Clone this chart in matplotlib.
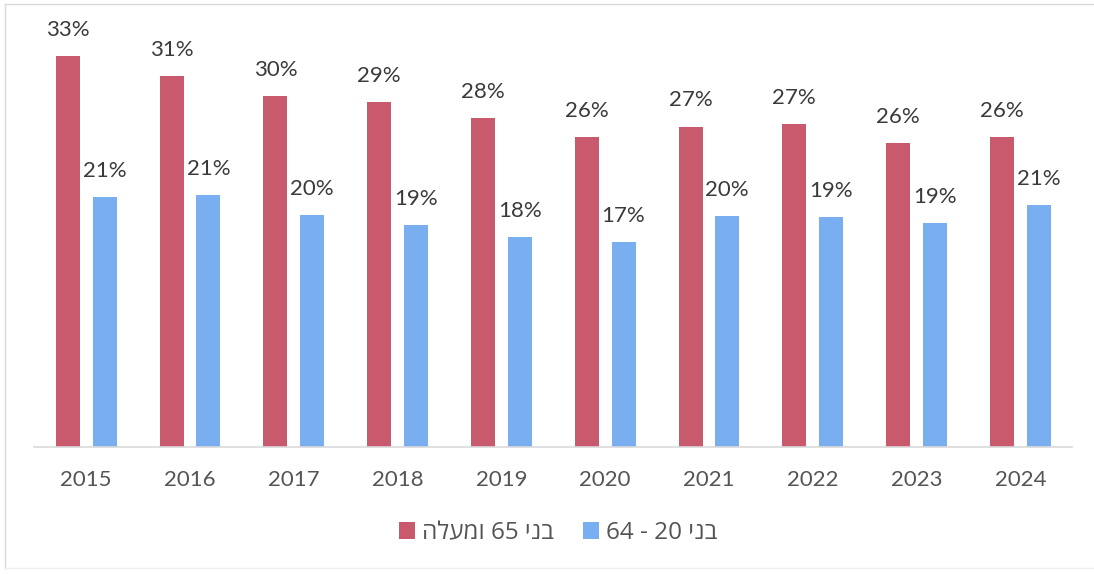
import matplotlib
matplotlib.use("Agg")
import matplotlib.pyplot as plt
import numpy as np
from matplotlib.lines import Line2D

# ---- data ----
years = ["2015", "2016", "2017", "2018", "2019", "2020", "2021", "2022", "2023", "2024"]
series_names = ["בני 65 ומעלה", "בני 20 - 64"]
age65_values = [33.2, 31.5, 29.8, 29.3, 27.9, 26.3, 27.2, 27.4, 25.8, 26.3]
age20_64_values = [21.2, 21.4, 19.7, 18.8, 17.8, 17.4, 19.6, 19.5, 19.0, 20.5]
age65_labels = ["33%", "31%", "30%", "29%", "28%", "26%", "27%", "27%", "26%", "26%"]
age20_64_labels = ["21%", "21%", "20%", "19%", "18%", "17%", "20%", "19%", "19%", "21%"]

RED = "#C95A6E"
BLUE = "#79AEF0"


def visual_rtl(s):
    """Simple visual reordering for right-to-left Hebrew text."""
    toks = s.split(" ")
    out = []
    for t in reversed(toks):
        if any("\u0590" <= c <= "\u05FF" for c in t):
            out.append(t[::-1])
        else:
            out.append(t)
    return " ".join(out)


W, H = 1094, 574
fig = plt.figure(figsize=(W / 100, H / 100), dpi=100)
fig.patch.set_facecolor("white")

# outer frame
border = "#D9D9D9"
fig.add_artist(Line2D([5 / W, 1.0], [1 - 4 / H, 1 - 4 / H], transform=fig.transFigure, color=border, lw=1))
fig.add_artist(Line2D([5 / W, 5 / W], [1 - 4 / H, 1 - 568 / H], transform=fig.transFigure, color=border, lw=1))
fig.add_artist(Line2D([5 / W, 1.0], [1 - 568 / H, 1 - 568 / H], transform=fig.transFigure, color="#EEEEEE", lw=1))

ax_left, ax_right = 34.3, 1072.2
ax_bottom_px, px_per_unit = 446.7, 11.77
ymax = 36
ax = fig.add_axes([ax_left / W, (H - ax_bottom_px) / H,
                   (ax_right - ax_left) / W, ymax * px_per_unit / H])

x = np.arange(len(years))
bw = 0.231
off = 0.177
b1 = ax.bar(x - off, age65_values, bw, color=RED, label=visual_rtl(series_names[0]))
b2 = ax.bar(x + off, age20_64_values, bw, color=BLUE, label=visual_rtl(series_names[1]))

lab_font = dict(family=["Lato", "DejaVu Sans"], fontsize=16, color="#3A3A3A")
for xi, v, l in zip(x - off, age65_values, age65_labels):
    ax.annotate(l, (xi, v), xytext=(0, 14.5), textcoords="offset points",
                ha="center", va="baseline", **lab_font)
for xi, v, l in zip(x + off, age20_64_values, age20_64_labels):
    ax.annotate(l, (xi, v), xytext=(0, 14.5), textcoords="offset points",
                ha="center", va="baseline", **lab_font)

ax.set_xlim(-0.5, len(years) - 0.5)
ax.set_ylim(0, ymax)
ax.set_xticks(x)
ax.set_xticklabels(years, fontsize=16, color="#555555", family=["Lato", "DejaVu Sans"])
ax.tick_params(axis="x", length=0, pad=17)
ax.set_yticks([])
for s in ["top", "right", "left"]:
    ax.spines[s].set_visible(False)
ax.spines["bottom"].set_color("#D9D9D9")
ax.spines["bottom"].set_linewidth(1.2)
ax.set_facecolor("none")

leg = fig.legend(handles=[b1, b2], loc="center", ncol=2,
                 bbox_to_anchor=(558 / W, 1 - 533 / H),
                 frameon=False, handlelength=0.65, handleheight=0.65,
                 handletextpad=0.3, columnspacing=1.2,
                 prop=dict(family=["Open Sans", "Liberation Sans", "DejaVu Sans"], size=17.5))
for t in leg.get_texts():
    t.set_color("#555555")

fig.savefig("out.png", dpi=100, facecolor="white")
